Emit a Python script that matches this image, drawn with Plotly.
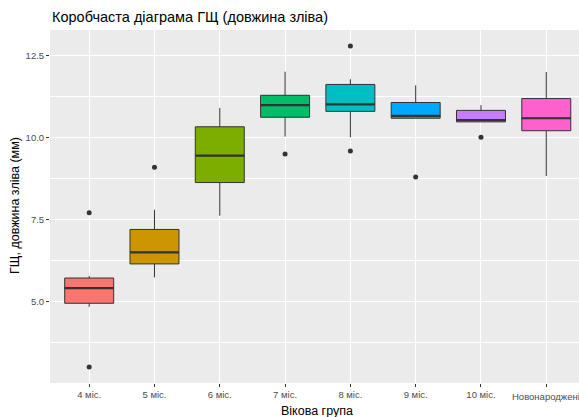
import plotly.graph_objects as go

categories = ["4 міс.", "5 міс.", "6 міс.", "7 міс.", "8 міс.", "9 міс.", "10 міс.", "Новонароджені"]
q1 = [4.94, 6.14, 8.62, 10.61, 10.79, 10.58, 10.47, 10.20]
median = [5.40, 6.49, 9.44, 10.98, 11.00, 10.65, 10.52, 10.58]
q3 = [5.71, 7.19, 10.32, 11.28, 11.61, 11.06, 10.82, 11.18]
lower_whisker = [4.83, 5.73, 7.61, 10.02, 10.00, 10.58, 10.47, 8.82]
upper_whisker = [5.77, 7.79, 10.89, 12.00, 11.77, 11.58, 10.98, 11.99]
outliers = [[7.70, 3.00], [9.09], [], [9.49], [12.78, 9.58], [8.79], [10.00], []]
colors = ["#F8766D", "#CD9600", "#7CAE00", "#00BE67", "#00BFC4", "#00A9FF", "#C77CFF", "#FF61CC"]
y_ticks = [5.0, 7.5, 10.0, 12.5]
y_minor = [3.75, 6.25, 8.75, 11.25]

W, H = 579, 417
BOXW = 0.75
fig = go.Figure()
for i, c in enumerate(categories):
    fig.add_trace(go.Box(
        x=[i], q1=[q1[i]], median=[median[i]], q3=[q3[i]],
        lowerfence=[lower_whisker[i]], upperfence=[upper_whisker[i]],
        width=BOXW, whiskerwidth=0, fillcolor=colors[i],
        line=dict(color="#333333", width=1), boxpoints=False,
        showlegend=False, hoverinfo="skip"))
    # thicker median line (ggplot style)
    fig.add_trace(go.Scatter(
        x=[i - BOXW / 2, i + BOXW / 2], y=[median[i], median[i]], mode="lines",
        line=dict(color="#333333", width=2.2), showlegend=False, hoverinfo="skip"))
    if outliers[i]:
        fig.add_trace(go.Scatter(
            x=[i] * len(outliers[i]), y=outliers[i], mode="markers",
            marker=dict(color="#333333", size=5), showlegend=False, hoverinfo="skip"))

left, right_edge = 50, 579
x0 = -0.6
unit = 65.3
x1 = x0 + (right_edge - left) / unit

TL, TR, TB = 50, 0, 34
TICKFONT = dict(size=9.5, color="#4D4D4D", family="Liberation Sans, Arial, sans-serif")
fig.update_layout(
    width=W, height=H,
    margin=dict(l=TL, r=TR, t=30, b=TB),
    paper_bgcolor="white", plot_bgcolor="#EBEBEB",
    font=dict(family="Liberation Sans, Arial, sans-serif", color="#000000"),
    title=dict(text="Коробчаста діаграма ГЩ (довжина зліва)", x=52 / W, xref="container",
               xanchor="left", y=1 - 17 / H, yref="container", yanchor="middle",
               font=dict(size=14.5, color="#000000")),
    xaxis=dict(range=[x0, x1], tickmode="array", tickvals=list(range(len(categories))),
               ticktext=categories[:-1] + [""], showgrid=True, gridcolor="white", gridwidth=1.1,
               zeroline=False, ticks="outside", ticklen=3, tickcolor="#333333", tickwidth=1,
               tickfont=TICKFONT, showline=False),
    yaxis=dict(range=[2.51, 13.27], tickmode="array", tickvals=y_ticks,
               ticktext=[f"{v:.1f}" for v in y_ticks], showgrid=True, gridcolor="white",
               gridwidth=1.1, zeroline=False, ticks="outside", ticklen=3, tickcolor="#333333",
               tickwidth=1, tickfont=TICKFONT, showline=False,
               minor=dict(tickmode="array", tickvals=y_minor, showgrid=True,
                          gridcolor="white", gridwidth=0.5, ticks="")),
)
dom_w = W - TL - TR
dom_h = H - 30 - TB
# last category label overflows the right edge (cropped as in the reference)
fig.add_annotation(text=categories[-1], x=len(categories) - 1, xref="x",
                   y=(H - TB - 396.5) / dom_h, yref="paper", showarrow=False,
                   font=TICKFONT, xanchor="center", yanchor="middle")
fig.add_annotation(text="Вікова група", x=(317 - TL) / dom_w, y=(H - TB - 411) / dom_h,
                   xref="paper", yref="paper", showarrow=False,
                   font=dict(size=12.5, color="#000000"), xanchor="center", yanchor="middle")
fig.add_annotation(text="ГЩ, довжина зліва (мм)", x=(15 - TL) / dom_w, y=(H - TB - 206) / dom_h,
                   xref="paper", yref="paper", showarrow=False,
                   font=dict(size=12.5, color="#000000"), textangle=-90,
                   xanchor="center", yanchor="middle")

fig.write_html("out.html")
